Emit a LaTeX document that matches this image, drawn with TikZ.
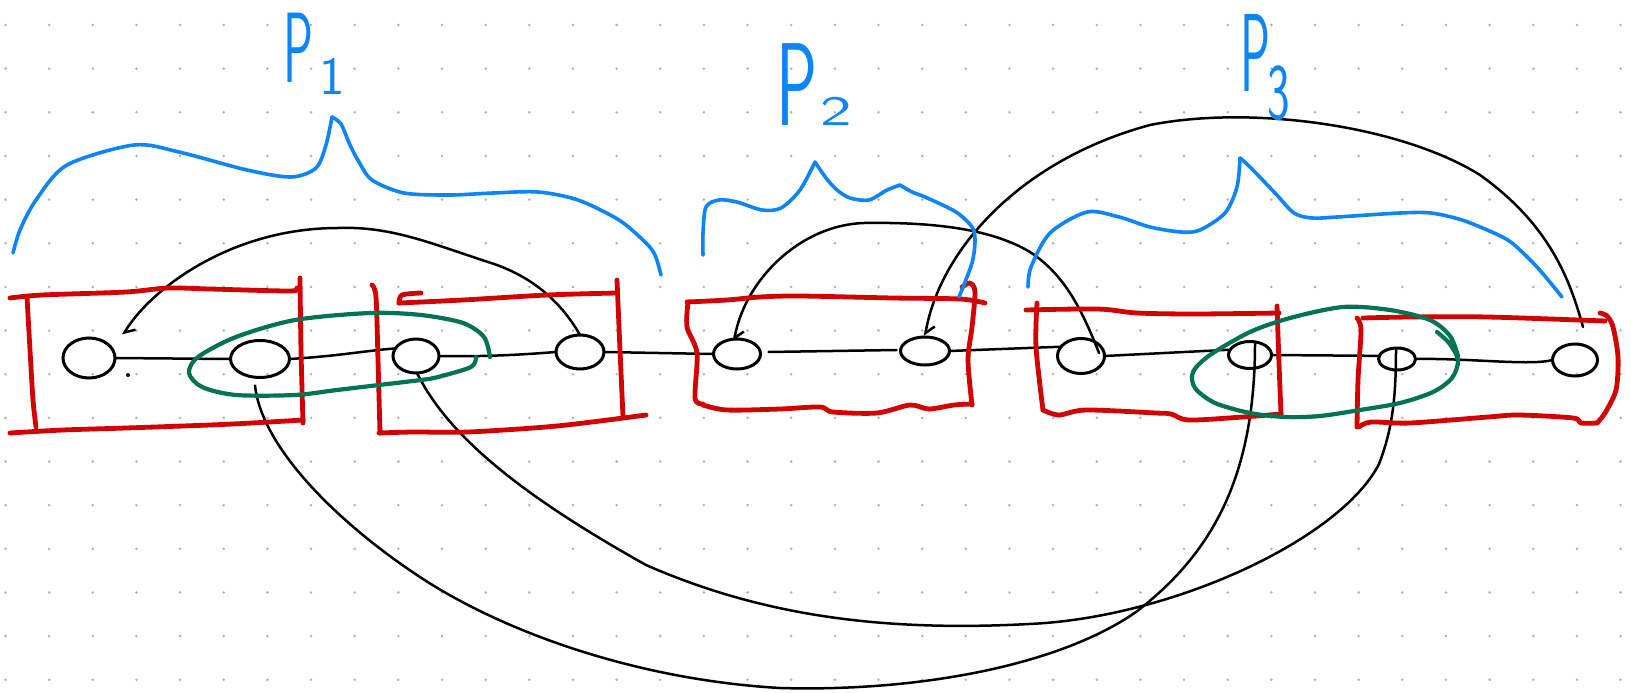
\documentclass[tikz,border=0pt]{standalone}
\usetikzlibrary{shapes.geometric,calc,arrows.meta}
\definecolor{pred}{RGB}{208,2,2}
\definecolor{pgreen}{RGB}{0,115,80}
\definecolor{pblue}{RGB}{12,132,250}
\definecolor{pdot}{RGB}{178,178,178}
\tikzset{
  vtx/.style={ellipse, draw=black, line width=3pt, inner sep=0pt, outer sep=0pt},
  edge/.style={draw=black, line width=2.5pt, line cap=round, line join=round},
  tip/.style={-{Straight Barb[harpoon,length=8pt,width=16pt,line width=2.5pt]}},
  redline/.style={draw=pred, line width=4.8pt, line cap=round, line join=round},
  greenline/.style={draw=pgreen, line width=4.2pt, line cap=round, line join=round},
  braceline/.style={draw=pblue, line width=3.6pt, line cap=round, line join=round},
  lbl/.style={text=pblue, inner sep=0pt, outer sep=0pt, font=\sffamily},
}
\begin{document}
\begin{tikzpicture}[x=1pt,y=-1pt]
\fill[white] (0,0) rectangle (1631,693);
\useasboundingbox (0,0) rectangle (1631,693);
% dot grid
\foreach \i in {0,...,37}{\foreach \j in {0,...,15}{\fill[pdot] (5.5+43.65*\i,25+43.65*\j) circle (1.4pt);}}

% vertices
\node[vtx, minimum width=52pt, minimum height=40pt] (n1) at (89,358) {};
\node[vtx, minimum width=59pt, minimum height=37pt] (n2) at (260,359) {};
\node[vtx, minimum width=46pt, minimum height=34pt] (n3) at (416,356) {};
\node[vtx, minimum width=48pt, minimum height=34pt] (n4) at (580,352) {};
\node[vtx, minimum width=47pt, minimum height=30pt] (n5) at (737,354) {};
\node[vtx, minimum width=49pt, minimum height=28pt] (n6) at (925,351) {};
\node[vtx, minimum width=47pt, minimum height=35pt] (n7) at (1081,356) {};
\node[vtx, minimum width=43pt, minimum height=27pt] (n8) at (1250,355) {};
\node[vtx, minimum width=37pt, minimum height=22pt] (n9) at (1397,359) {};
\node[vtx, minimum width=45pt, minimum height=32pt] (n10) at (1575,360) {};
\fill[black] (128,375) circle (2pt);

% path edges
\draw[edge] (n1.east) -- (n2.west);
\draw[edge] (n2.east) .. controls (340,356) and (370,350) .. (n3.160);
\draw[edge] (n3.east) .. controls (490,357) and (530,354) .. (n4.west);
\draw[edge] (n4.east) -- (n5.west);
\draw[edge] ($(n5.east)+(8,-2)$) -- ($(n6.west)+(-4,-1)$);
\draw[edge] (n6.east) -- (n7.155);
\draw[edge] (n7.east) -- (n8.165);
\draw[edge] (n8.east) -- (n9.170);
\draw[edge] (n9.east) .. controls (1470,358) and (1530,366) .. (n10.west);

% arcs above
\draw[edge, tip] (n4.north) .. controls (560,300) and (530,275) .. (488,262)
  .. controls (430,243) and (390,226) .. (338,228)
  .. controls (230,228) and (150,290) .. ($(n1.center)+(34,-23)$);
\draw[edge, tip] ($(n7.center)+(18,-3)$) .. controls (1082,310) and (1065,275) .. (1030,252)
  .. controls (990,228) and (930,222) .. (864,223)
  .. controls (800,225) and (745,280) .. ($(n5.center)+(-3,-13)$);
\draw[edge, tip] ($(n10.center)+(8,-33)$) .. controls (1570,280) and (1550,225) .. (1480,175)
  .. controls (1400,125) and (1250,105) .. (1150,125)
  .. controls (1020,160) and (940,250) .. ($(n6.center)+(0,-15)$);

% arcs below
\draw[edge] ($(n2.south)+(-5,8)$) .. controls (262,450) and (343,527) .. (423,579)
  .. controls (508,634) and (640,680) .. (780,688)
  .. controls (920,692) and (1060,665) .. (1136,612)
  .. controls (1210,555) and (1255,480) .. ($(n8.center)+(5,-12)$);
\draw[edge] ($(n3.south)+(1,0)$) .. controls (450,440) and (530,500) .. (646,565)
  .. controls (760,615) and (880,632) .. (1029,624)
  .. controls (1170,618) and (1340,540) .. (1379,464)
  .. controls (1392,430) and (1396,400) .. ($(n9.center)+(-1,-10)$);

% red boxes
\draw[redline] plot[smooth] coordinates {(10,298) (42,295) (126,292) (168,288) (210,289) (290,291) (297,288)};
\draw[redline] plot[smooth] coordinates {(27,297) (30,350) (33,400) (36,427)};
\draw[redline] plot[smooth] coordinates {(300,278) (301,350) (303,423)};
\draw[redline] plot[smooth] coordinates {(10,433) (63,430) (126,428) (210,425) (252,423) (303,420)};

\draw[redline] plot[smooth] coordinates {(421,293) (402,295) (399,303)};
\draw[redline] plot[smooth] coordinates {(399,303) (463,300) (547,295) (617,293)};
\draw[redline] plot[smooth] coordinates {(372,285) (376,297) (378,360) (380,433)};
\draw[redline] plot[smooth] coordinates {(617,280) (620,350) (623,417)};
\draw[redline] plot[smooth] coordinates {(379,433) (414,432) (468,432) (557,426) (646,415)};

\draw[redline] plot[smooth] coordinates {(687,302) (727,300) (760,297) (800,296) (893,298) (960,299) (985,303)};
\draw[redline] plot[smooth] coordinates {(962,287) (970,283) (975,292) (972,327) (968,360) (972,405)};
\draw[redline] plot[smooth] coordinates {(688,302) (687,327) (697,353) (695,398) (703,404)};
\draw[redline] plot[smooth] coordinates {(703,405) (727,410) (780,409) (820,407) (833,412) (877,413) (910,405) (929,409) (954,405) (972,404)};

\draw[redline] plot[smooth] coordinates {(1026,310) (1098,309) (1137,313) (1195,314) (1279,313)};
\draw[redline] plot[smooth] coordinates {(1037,303) (1036,347) (1043,410)};
\draw[redline] plot[smooth] coordinates {(1277,306) (1279,363) (1281,414)};
\draw[redline] plot[smooth] coordinates {(1043,410) (1059,415) (1086,410) (1156,413) (1171,414) (1189,420) (1243,417) (1281,414)};

\draw[redline] plot[smooth] coordinates {(1363,318) (1410,317) (1488,317) (1605,321)};
\draw[redline] plot[smooth] coordinates {(1600,313) (1607,316) (1613,327) (1618,357) (1616,390) (1605,413) (1597,423)};
\draw[redline] plot[smooth] coordinates {(1357,318) (1361,330) (1358,380) (1357,427)};
\draw[redline] plot[smooth] coordinates {(1359,427) (1371,422) (1410,423) (1488,417) (1519,415) (1573,418) (1581,423) (1597,423)};

% green loops
\draw[greenline] plot[smooth] coordinates {(476,357) (471,367) (438,377) (421,380) (379,385) (337,390) (295,395) (236,395) (202,387) (189,373) (198,357) (236,337) (295,320) (370,313) (421,315) (463,323) (484,337) (490,357)};
\draw[greenline] plot[smooth] coordinates {(1437,332) (1449,343) (1458,360) (1452,378) (1433,392) (1400,403) (1360,410) (1320,416) (1285,417) (1250,413) (1215,403) (1195,388) (1193,372) (1210,355) (1250,332) (1290,318) (1343,307) (1390,310) (1430,320) (1450,336) (1458,356)};

% blue braces
\draw[braceline] plot[smooth] coordinates {(13,253) (20,230) (36,200) (67,165) (134,145) (179,152) (247,170) (291,177) (316,168) (326,145) (332,117)};
\draw[braceline] plot[smooth] coordinates {(332,117) (341,124) (350,145) (359,162) (372,180) (404,193) (450,195) (493,193) (538,192) (578,200) (619,220) (645,242) (655,255) (661,275)};
\draw[braceline] plot[smooth] coordinates {(703,255) (703,233) (706,207) (719,200) (737,202) (762,210) (781,208) (800,190) (815,162)};
\draw[braceline] plot[smooth] coordinates {(815,162) (826,178) (837,190) (850,198) (869,200) (887,190) (900,185)};
\draw[braceline] plot[smooth] coordinates {(900,185) (912,192) (925,197) (956,212) (972,227) (975,240) (972,263) (959,297)};
\draw[braceline] plot[smooth] coordinates {(1028,287) (1031,267) (1050,233) (1087,212) (1119,217) (1150,227) (1181,232) (1200,230) (1225,213) (1237,187) (1240,158)};
\draw[braceline] plot[smooth] coordinates {(1240,158) (1250,167) (1275,193) (1294,213) (1312,218) (1337,217) (1400,213) (1431,213) (1462,220) (1494,233) (1512,243) (1537,267) (1562,297)};

% labels
\node[lbl, anchor=base west] (p1) at (283,82) {\scalebox{0.5}[1]{\fontsize{100}{100}\selectfont P}\hspace{6pt}\raisebox{-13pt}{\fontsize{54}{54}\selectfont 1}};
\node[lbl, anchor=base west] (p2) at (776,125) {\scalebox{0.58}[1]{\fontsize{118}{118}\selectfont P}\hspace{3pt}\scalebox{1.6}[1]{\fontsize{42}{42}\selectfont 2}};
\node[lbl, anchor=base west] (p3) at (1240,92) {\scalebox{0.45}[1]{\fontsize{111}{111}\selectfont P}\hspace{-2pt}\raisebox{-28pt}{\scalebox{0.6}[1]{\fontsize{80}{80}\selectfont 3}}};
\end{tikzpicture}
\end{document}
